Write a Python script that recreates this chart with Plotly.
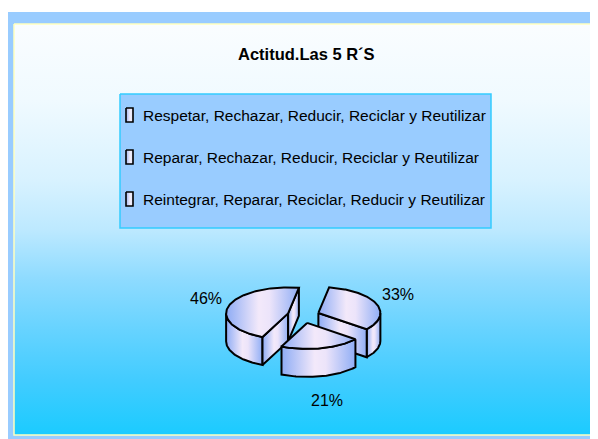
import numpy as np
import plotly.graph_objects as go

# ---------------- data ----------------
title_text = "Actitud.Las 5 R´S"
categories = [
    "Respetar, Rechazar, Reducir, Reciclar y Reutilizar",
    "Reparar, Rechazar, Reducir, Reciclar y Reutilizar",
    "Reintegrar, Reparar, Reciclar, Reducir y Reutilizar",
]
percent_values = [33, 21, 46]

# ---------------- style / geometry ----------------
W, H = 598, 439
OFF = 8                      # page body margin: the figure starts at (8, 8)
FONT = "Liberation Sans Narrow, Arial Narrow, Liberation Sans, sans-serif"
CX, CY = 303.4, 315.6        # pie centre (pixels)
RX, RY = 62.0, 26.0          # ellipse radii of the top face
DEPTH = 28.0                 # pie thickness
EXX, EXY = 16.0, 7.5         # explode distance
START = 10.0                 # first slice angle (deg clockwise from 12 o'clock)
FACE_SCALE = [[0, "#8eacf5"], [0.45, "#f3e9fa"], [0.6, "#ece4fa"], [1, "#90aef5"]]
BG_SCALE = [[0, "#fafdff"], [0.185, "#f0faff"], [0.38, "#d8f2ff"], [0.5, "#bde9ff"],
            [0.62, "#8edbff"], [0.745, "#66d3ff"], [0.866, "#42ccff"], [1, "#1bcbff"]]

fig = go.Figure()


def poly(xs, ys, fill=None, line_color="black", line_width=2.0, grad=None):
    kw = dict(x=list(xs) + [xs[0]], y=list(ys) + [ys[0]], mode="lines", fill="toself",
              line=dict(color=line_color, width=line_width),
              hoverinfo="skip", showlegend=False)
    if grad is not None:
        kw["fillgradient"] = grad
    else:
        kw["fillcolor"] = fill
    fig.add_trace(go.Scatter(**kw))


# frame and gradient panel
poly([7, 599, 599, 7], [12, 12, 440, 440], fill="#99ccff", line_width=0)
poly([14, 596, 596, 14], [24, 24, 435, 435], line_color="#ffffc0", line_width=1.5,
     grad=dict(type="vertical", colorscale=BG_SCALE, start=24, stop=435))

# legend box
LX0, LX1, LY0, LY1 = 120, 491, 94, 228
poly([LX0, LX1, LX1, LX0], [LY0, LY0, LY1, LY1], fill="#99ccff",
     line_color="#33ccff", line_width=1.5)
ROW0, ROWD = 115, 42
for i, name in enumerate(categories):
    yc = ROW0 + i * ROWD
    poly([126, 133, 133, 126], [yc - 7, yc - 7, yc + 7, yc + 7], line_width=1.6,
         grad=dict(type="horizontal", colorscale=[[0, "#9fb6f2"], [0.6, "#f4eefa"], [1, "#dfe6fb"]]))
    fig.add_annotation(x=141, y=yc, text=name, showarrow=False, xanchor="left",
                       yanchor="middle", xref="x", yref="y",
                       font=dict(family=FONT, size=15.5, color="black"))

# title
fig.add_annotation(x=306, y=54, text="<b>" + title_text + "</b>", showarrow=False,
                   xref="x", yref="y", xanchor="center", yanchor="middle",
                   font=dict(family=FONT, size=16.5, color="black"))


# ---------------- 3D exploded pie ----------------
def rim(vx, vy, th):
    t = np.radians(th)
    return vx + RX * np.sin(t), vy - RY * np.cos(t)


total = float(sum(percent_values))
slices = []
acc = START
for v in percent_values:
    a = acc
    b = acc + 360.0 * v / total
    m = np.radians((a + b) / 2)
    vx = CX + EXX * np.sin(m)
    vy = CY - EXY * np.cos(m)
    slices.append(dict(v=v, a=a, b=b, m=m, vx=vx, vy=vy))
    acc = b

# back to front
for s in sorted(slices, key=lambda s: -np.cos(s["m"])):
    a, b, vx, vy = s["a"], s["b"], s["vx"], s["vy"]
    grad = dict(type="horizontal", colorscale=FACE_SCALE)
    # outer wall (front-facing part)
    for k in (-1, 0, 1):
        lo, hi = max(a, 90 + 360 * k), min(b, 270 + 360 * k)
        if lo < hi:
            th = np.linspace(lo, hi, 60)
            xs, ys = rim(vx, vy, th)
            px = list(xs) + list(xs[::-1])
            py = list(ys) + list((ys + DEPTH)[::-1])
            poly(px, py, grad=grad)
    # cut faces
    for ang, vis in ((a, np.sin(np.radians(a)) < 0), (b, np.sin(np.radians(b)) > 0)):
        if vis:
            rx_, ry_ = rim(vx, vy, ang)
            poly([vx, rx_, rx_, vx], [vy, ry_, ry_ + DEPTH, vy + DEPTH], grad=grad)
    # top face
    th = np.linspace(a, b, 120)
    xs, ys = rim(vx, vy, th)
    poly([vx] + list(xs), [vy] + list(ys), grad=grad)

# percentage labels
for s in slices:
    m = s["m"]
    lx = CX + EXX * np.sin(m) + 1.38 * RX * np.sin(m)
    ly = CY - EXY * np.cos(m) - 2.0 * RY * np.cos(m) + DEPTH * max(0.0, -np.cos(m))
    fig.add_annotation(x=lx, y=ly, text=f"{s['v']}%", showarrow=False, xref="x", yref="y",
                       xanchor="center", yanchor="middle",
                       font=dict(family=FONT, size=16, color="black"))

fig.update_layout(
    width=W - OFF, height=H - OFF, margin=dict(l=0, r=0, t=0, b=0),
    paper_bgcolor="white", plot_bgcolor="rgba(0,0,0,0)",
    xaxis=dict(range=[OFF, W], visible=False, fixedrange=True),
    yaxis=dict(range=[H, OFF], visible=False, fixedrange=True),
    showlegend=False,
)
fig.write_html("out.html")
